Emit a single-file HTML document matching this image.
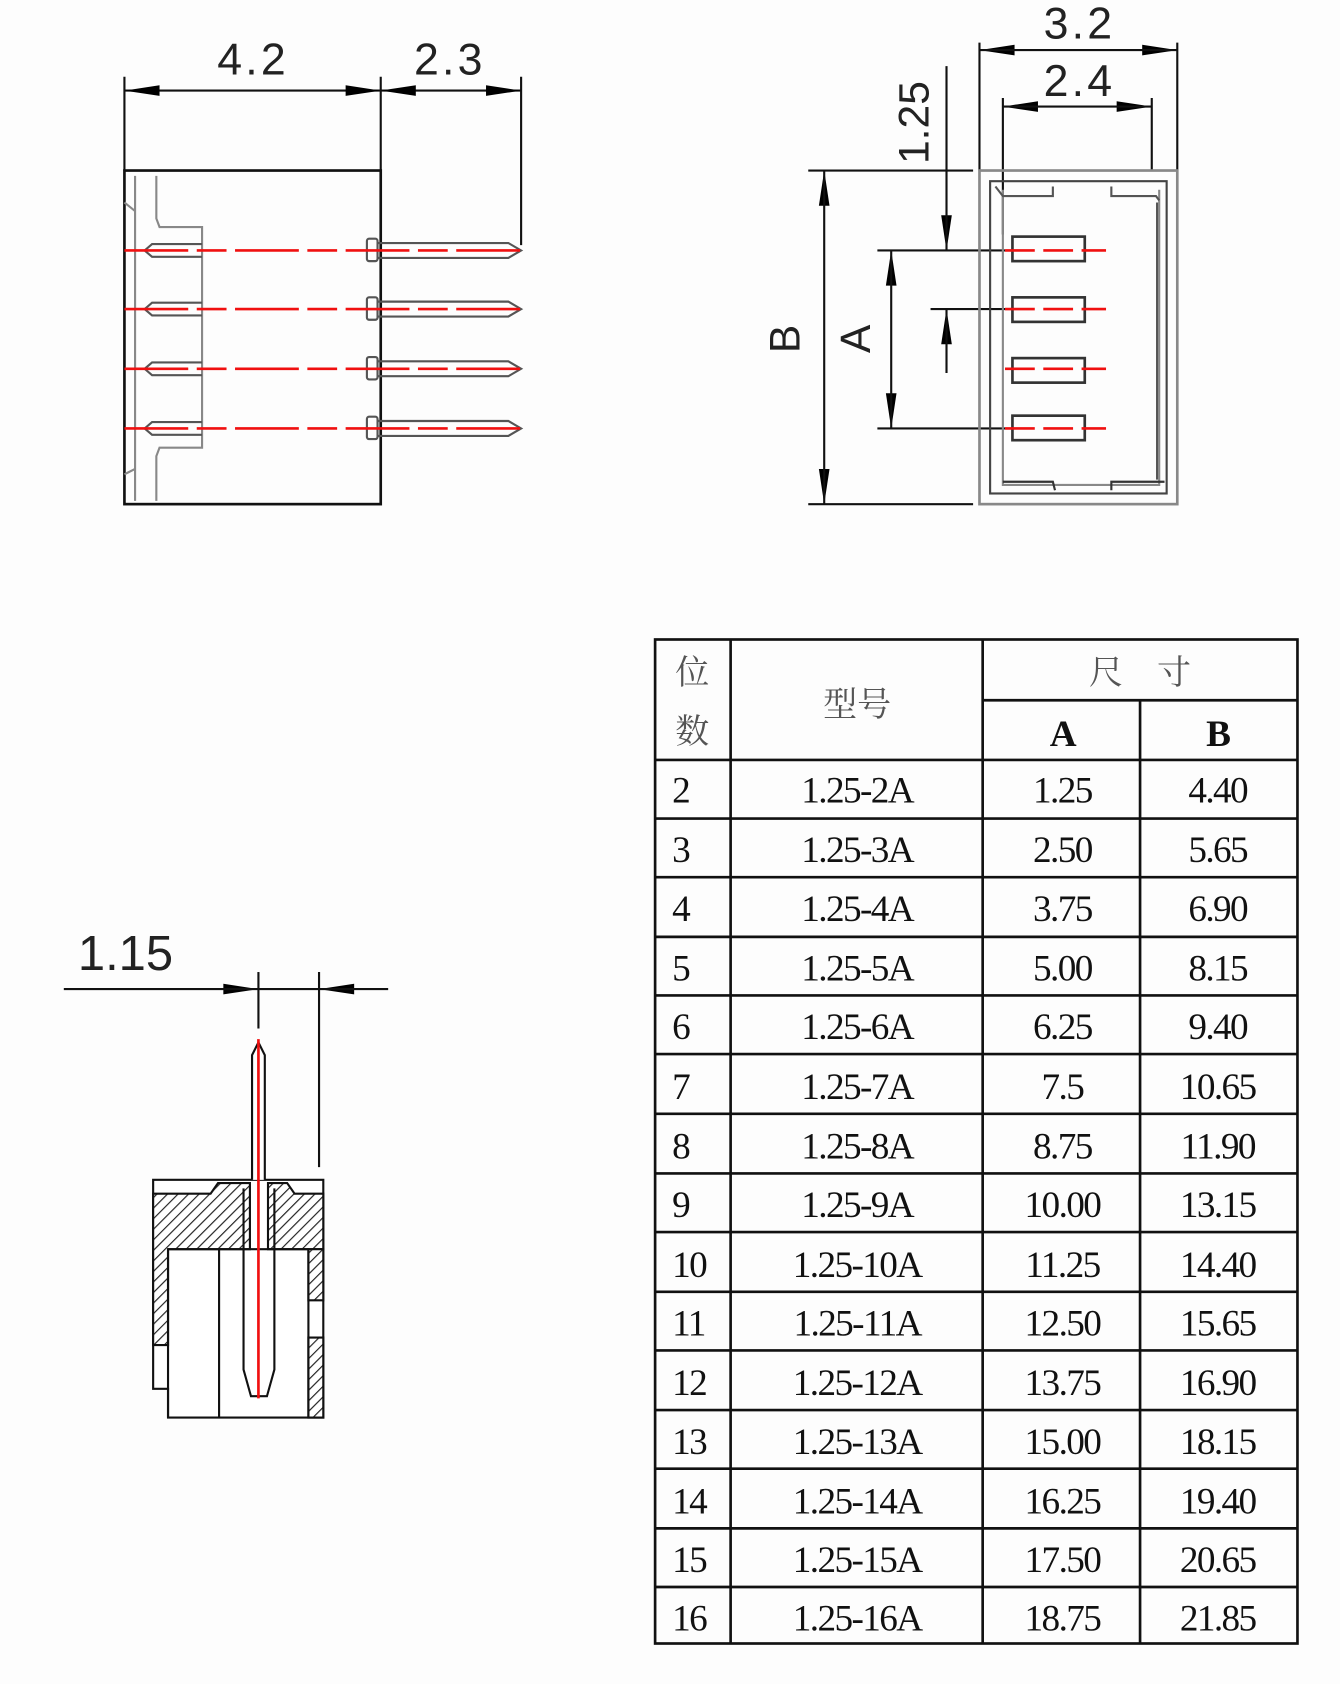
<!DOCTYPE html>
<html><head><meta charset="utf-8"><style>html,body{margin:0;padding:0;background:#fff}svg{display:block}</style></head><body>
<svg width="1340" height="1684" viewBox="0 0 1260 1580" preserveAspectRatio="none" xmlns="http://www.w3.org/2000/svg">
<defs>
<pattern id="h" width="7" height="7" patternUnits="userSpaceOnUse" patternTransform="rotate(45)"><rect width="7" height="7" fill="#fff"/><line x1="0" y1="0" x2="0" y2="7" stroke="#222" stroke-width="2.2"/></pattern>
</defs>
<rect width="1260" height="1580" fill="#fdfdfd"/>
<g font-family="'Liberation Sans',sans-serif" fill="#222">
<!-- Top-left view -->
<g stroke="#111" stroke-width="2" fill="none">
<line x1="117" y1="72" x2="117" y2="160"/><line x1="358" y1="72" x2="358" y2="160"/><line x1="490" y1="72" x2="490" y2="230"/>
<line x1="117" y1="85" x2="490" y2="85"/>
<rect x="117" y="160" width="241" height="313" stroke-width="2.5"/>
</g>
<g fill="#000" stroke="none">
<polygon points="117,85 150,80 150,90"/><polygon points="358,85 325,80 325,90"/>
<polygon points="358,85 391,80 391,90"/><polygon points="490,85 457,80 457,90"/>
<polygon points="921,47 954,42 954,52"/><polygon points="1107,47 1074,42 1074,52"/>
<polygon points="943,100 976,95 976,105"/><polygon points="1083,100 1050,95 1050,105"/>
<polygon points="775,160 770,193 780,193"/><polygon points="775,473 770,440 780,440"/>
<polygon points="838,235 833,268 843,268"/><polygon points="838,402 833,369 843,369"/>
<polygon points="890,235 885,202 895,202"/><polygon points="890,290 885,323 895,323"/>
<polygon points="243,928 210,923 210,933"/><polygon points="300,928 333,923 333,933"/>
</g>
<text x="238" y="70" font-size="42" text-anchor="middle" letter-spacing="3">4.2</text>
<text x="423" y="70" font-size="42" text-anchor="middle" letter-spacing="3">2.3</text>
<g stroke="#888" stroke-width="2" fill="none">
<path d="M127,165 L127,470"/><path d="M147,165 L147,205 L150,213 L190,213 L190,420 L150,420 L147,428 L147,470"/>
<path d="M117,190 L127,198"/><path d="M117,445 L127,440"/>
</g>
<g stroke="#555" stroke-width="2" fill="none">
<path d="M190,229 L143,229 L136,235 L143,241 L190,241"/>
<path d="M190,284 L143,284 L136,290 L143,296 L190,296"/>
<path d="M190,340 L143,340 L136,346 L143,352 L190,352"/>
<path d="M190,396 L143,396 L136,402 L143,408 L190,408"/>
<rect x="345" y="224" width="10" height="21" rx="2"/><rect x="345" y="279" width="10" height="21" rx="2"/>
<rect x="345" y="335" width="10" height="21" rx="2"/><rect x="345" y="391" width="10" height="21" rx="2"/>
<path d="M355,228 L478,228 L490,235 L478,242 L355,242"/>
<path d="M355,283 L478,283 L490,290 L478,297 L355,297"/>
<path d="M355,339 L478,339 L490,346 L478,353 L355,353"/>
<path d="M355,395 L478,395 L490,402 L478,409 L355,409"/>
</g>
<g stroke="#f01010" stroke-width="2.5" stroke-dasharray="60,8,28,8">
<line x1="117" y1="235" x2="490" y2="235"/><line x1="117" y1="290" x2="490" y2="290"/>
<line x1="117" y1="346" x2="490" y2="346"/><line x1="117" y1="402" x2="490" y2="402"/>
</g>

<!-- Top-right view -->
<g stroke="#111" stroke-width="2" fill="none">
<line x1="921" y1="40" x2="921" y2="160"/><line x1="1107" y1="40" x2="1107" y2="160"/>
<line x1="921" y1="47" x2="1107" y2="47"/>
<line x1="943" y1="92" x2="943" y2="220"/><line x1="1083" y1="92" x2="1083" y2="160"/>
<line x1="943" y1="100" x2="1083" y2="100"/>
<line x1="760" y1="160" x2="915" y2="160"/><line x1="760" y1="473" x2="915" y2="473"/>
<line x1="825" y1="235" x2="945" y2="235"/><line x1="875" y1="290" x2="945" y2="290"/><line x1="825" y1="402" x2="945" y2="402"/>
<line x1="775" y1="160" x2="775" y2="473"/>
<line x1="838" y1="235" x2="838" y2="402"/>
<line x1="890" y1="62" x2="890" y2="235"/>
<line x1="890" y1="350" x2="890" y2="290"/>
</g>
<text transform="translate(873,115) rotate(-90)" font-size="40" text-anchor="middle">1.25</text>
<text transform="translate(752,318) rotate(-90)" font-size="40" text-anchor="middle">B</text>
<text transform="translate(818,318) rotate(-90)" font-size="40" text-anchor="middle">A</text>
<text x="1015" y="36" font-size="42" text-anchor="middle" letter-spacing="3">3.2</text>
<text x="1015" y="90" font-size="42" text-anchor="middle" letter-spacing="3">2.4</text>
<g fill="none">
<rect x="921" y="160" width="186" height="313" stroke="#888" stroke-width="2.5"/>
<rect x="931" y="170" width="166" height="293" stroke="#444" stroke-width="2"/>
<path d="M943,178 L943,455 L1090,455 L1090,178" stroke="#888" stroke-width="2"/>
<path d="M936,175 L943,184 L990,184 L990,175 M1045,175 L1045,184 L1087,184 L1090,188 M1088,190 L1088,450" stroke="#555" stroke-width="2"/>
<path d="M943,452 L990,452 L992,460 M1045,460 L1045,452 L1095,452" stroke="#333" stroke-width="2"/>
</g>
<g fill="none" stroke="#333" stroke-width="2.5">
<rect x="952" y="222" width="68" height="23"/><rect x="952" y="279" width="68" height="23"/>
<rect x="952" y="336" width="68" height="23"/><rect x="952" y="390" width="68" height="23"/>
</g>
<g stroke="#f01010" stroke-width="2.5" stroke-dasharray="28,8">
<line x1="945" y1="235" x2="1040" y2="235"/><line x1="945" y1="290" x2="1040" y2="290"/>
<line x1="945" y1="346" x2="1040" y2="346"/><line x1="945" y1="402" x2="1040" y2="402"/>
</g>

<!-- Bottom-left view -->
<text x="118" y="910" font-size="46" text-anchor="middle">1.15</text>
<g stroke="#111" stroke-width="2" fill="none">
<line x1="60" y1="928" x2="365" y2="928"/>
<line x1="243" y1="912" x2="243" y2="965"/><line x1="300" y1="912" x2="300" y2="1095"/>
</g>
<g stroke="#111" stroke-width="2">
<path d="M144,1107 L304,1107 L304,1330 L158,1330 L158,1303 L144,1303 Z" fill="#fff"/>
<path d="M144,1120 L198,1120 L205,1110 L235,1110 L235,1172 L158,1172 L158,1262 L144,1262 Z" fill="url(#h)"/>
<path d="M252,1110 L270,1110 L277,1120 L304,1120 L304,1172 L252,1172 Z" fill="url(#h)"/>
<path d="M290,1172 L304,1172 L304,1220 L290,1220 Z" fill="url(#h)"/>
<path d="M290,1255 L304,1255 L304,1330 L290,1330 Z" fill="url(#h)"/>
<path d="M158,1172 L158,1330 M206,1172 L206,1330 M158,1172 L290,1172 M290,1172 L290,1330" fill="none"/>
<path d="M237,1107 L237,990 L243,978 L249,990 L249,1107" fill="#fff"/>
<path d="M229,1115 L229,1285 L236,1310 L251,1310 L258,1285 L258,1115" fill="none"/>
</g>
<line x1="243" y1="975" x2="243" y2="1312" stroke="#f01010" stroke-width="2.5"/>

<!-- Table -->
<g stroke="#111" stroke-width="2.5" fill="none">
<rect x="616" y="600" width="604" height="942"/>
<line x1="687" y1="600" x2="687" y2="1542"/><line x1="924" y1="600" x2="924" y2="1542"/>
<line x1="1072" y1="657" x2="1072" y2="1542"/><line x1="924" y1="657" x2="1220" y2="657"/>
<line x1="616" y1="713" x2="1220" y2="713"/><line x1="616" y1="768" x2="1220" y2="768"/>
<line x1="616" y1="823" x2="1220" y2="823"/><line x1="616" y1="879" x2="1220" y2="879"/>
<line x1="616" y1="934" x2="1220" y2="934"/><line x1="616" y1="989" x2="1220" y2="989"/>
<line x1="616" y1="1045" x2="1220" y2="1045"/><line x1="616" y1="1101" x2="1220" y2="1101"/>
<line x1="616" y1="1156" x2="1220" y2="1156"/><line x1="616" y1="1212" x2="1220" y2="1212"/>
<line x1="616" y1="1267" x2="1220" y2="1267"/><line x1="616" y1="1323" x2="1220" y2="1323"/>
<line x1="616" y1="1378" x2="1220" y2="1378"/><line x1="616" y1="1434" x2="1220" y2="1434"/>
<line x1="616" y1="1489" x2="1220" y2="1489"/>
</g>
<g font-family="'Liberation Serif','Noto Serif CJK SC',serif" font-size="32" fill="#555">
<text x="651" y="642" text-anchor="middle">位</text><text x="651" y="697" text-anchor="middle">数</text>
<text x="806" y="672" text-anchor="middle">型号</text>
<text x="1072" y="642" text-anchor="middle">尺&#160;&#160;&#160;&#160;寸</text>
</g>
<g font-family="'Liberation Serif',serif" font-size="35" fill="#111" letter-spacing="-1.5">
<text x="999" y="700" text-anchor="middle" font-weight="bold">A</text><text x="1145" y="700" text-anchor="middle" font-weight="bold">B</text>
<g>
<text x="632" y="753">2</text><text x="806" y="753" text-anchor="middle">1.25-2A</text><text x="999" y="753" text-anchor="middle">1.25</text><text x="1145" y="753" text-anchor="middle">4.40</text>
<text x="632" y="809">3</text><text x="806" y="809" text-anchor="middle">1.25-3A</text><text x="999" y="809" text-anchor="middle">2.50</text><text x="1145" y="809" text-anchor="middle">5.65</text>
<text x="632" y="864">4</text><text x="806" y="864" text-anchor="middle">1.25-4A</text><text x="999" y="864" text-anchor="middle">3.75</text><text x="1145" y="864" text-anchor="middle">6.90</text>
<text x="632" y="920">5</text><text x="806" y="920" text-anchor="middle">1.25-5A</text><text x="999" y="920" text-anchor="middle">5.00</text><text x="1145" y="920" text-anchor="middle">8.15</text>
<text x="632" y="975">6</text><text x="806" y="975" text-anchor="middle">1.25-6A</text><text x="999" y="975" text-anchor="middle">6.25</text><text x="1145" y="975" text-anchor="middle">9.40</text>
<text x="632" y="1031">7</text><text x="806" y="1031" text-anchor="middle">1.25-7A</text><text x="999" y="1031" text-anchor="middle">7.5</text><text x="1145" y="1031" text-anchor="middle">10.65</text>
<text x="632" y="1087">8</text><text x="806" y="1087" text-anchor="middle">1.25-8A</text><text x="999" y="1087" text-anchor="middle">8.75</text><text x="1145" y="1087" text-anchor="middle">11.90</text>
<text x="632" y="1142">9</text><text x="806" y="1142" text-anchor="middle">1.25-9A</text><text x="999" y="1142" text-anchor="middle">10.00</text><text x="1145" y="1142" text-anchor="middle">13.15</text>
<text x="632" y="1198">10</text><text x="806" y="1198" text-anchor="middle">1.25-10A</text><text x="999" y="1198" text-anchor="middle">11.25</text><text x="1145" y="1198" text-anchor="middle">14.40</text>
<text x="632" y="1253">11</text><text x="806" y="1253" text-anchor="middle">1.25-11A</text><text x="999" y="1253" text-anchor="middle">12.50</text><text x="1145" y="1253" text-anchor="middle">15.65</text>
<text x="632" y="1309">12</text><text x="806" y="1309" text-anchor="middle">1.25-12A</text><text x="999" y="1309" text-anchor="middle">13.75</text><text x="1145" y="1309" text-anchor="middle">16.90</text>
<text x="632" y="1364">13</text><text x="806" y="1364" text-anchor="middle">1.25-13A</text><text x="999" y="1364" text-anchor="middle">15.00</text><text x="1145" y="1364" text-anchor="middle">18.15</text>
<text x="632" y="1420">14</text><text x="806" y="1420" text-anchor="middle">1.25-14A</text><text x="999" y="1420" text-anchor="middle">16.25</text><text x="1145" y="1420" text-anchor="middle">19.40</text>
<text x="632" y="1475">15</text><text x="806" y="1475" text-anchor="middle">1.25-15A</text><text x="999" y="1475" text-anchor="middle">17.50</text><text x="1145" y="1475" text-anchor="middle">20.65</text>
<text x="632" y="1530">16</text><text x="806" y="1530" text-anchor="middle">1.25-16A</text><text x="999" y="1530" text-anchor="middle">18.75</text><text x="1145" y="1530" text-anchor="middle">21.85</text>
</g>
</g>
</g>
</svg>
</body></html>
